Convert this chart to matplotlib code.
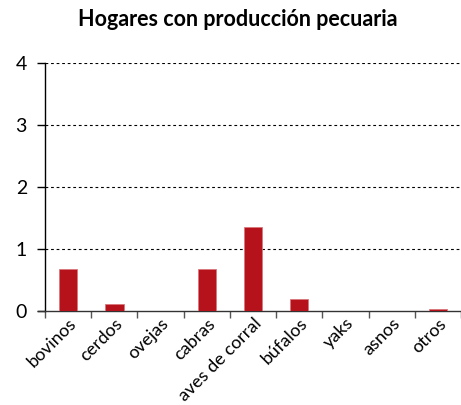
import matplotlib
matplotlib.use("Agg")
import matplotlib.pyplot as plt
import numpy as np

categories = ["bovinos", "cerdos", "ovejas", "cabras", "aves de corral",
              "búfalos", "yaks", "asnos", "otros"]
values = [0.67, 0.11, 0.0, 0.67, 1.36, 0.20, 0.0, 0.0, 0.03]
yticks = [0, 1, 2, 3, 4]

plt.rcParams["font.family"] = ["Lato", "DejaVu Sans"]

fig = plt.figure(figsize=(4.61, 4.05), dpi=100)
ax = fig.add_axes([45 / 461, 1 - 311 / 405, 416 / 461, 248 / 405])

x = np.arange(len(categories))
ax.bar(x, values, width=0.4, color="#b5121b", edgecolor="#d9767b",
       linewidth=0.6, zorder=3)

ax.set_xlim(-0.5, len(categories) - 0.5)
ax.set_ylim(0, 4)
ax.set_yticks(yticks)
ax.set_yticklabels([str(t) for t in yticks], fontsize=14)
for t in yticks[1:]:
    ax.axhline(t, color="black", lw=0.8, ls=(0, (2.5, 2.5)), zorder=1)

# ticks at category boundaries, labels at centers
ax.set_xticks(np.arange(len(categories) + 1) - 0.5)
ax.set_xticklabels([])
ax.set_xticks(x, minor=True)
ax.set_xticklabels(categories, minor=True, rotation=45, ha="right",
                   rotation_mode="anchor", fontsize=13)
ax.tick_params(axis="x", which="minor", length=0, pad=3)
ax.tick_params(axis="x", which="major", length=5, width=1, color="#555555")
ax.tick_params(axis="y", length=6, width=1, pad=7)

for s in ["top", "right"]:
    ax.spines[s].set_visible(False)
ax.spines["left"].set_linewidth(1)
ax.spines["bottom"].set_linewidth(1)
ax.spines["bottom"].set_bounds(-0.65, len(categories) - 0.5)
ax.spines["bottom"].set_color("#333333")

fig.text(238 / 461, 1 - 20 / 405, "Hogares con producción pecuaria",
         ha="center", va="center", fontsize=15.5, fontweight="bold")

fig.savefig("out.png", dpi=100)
